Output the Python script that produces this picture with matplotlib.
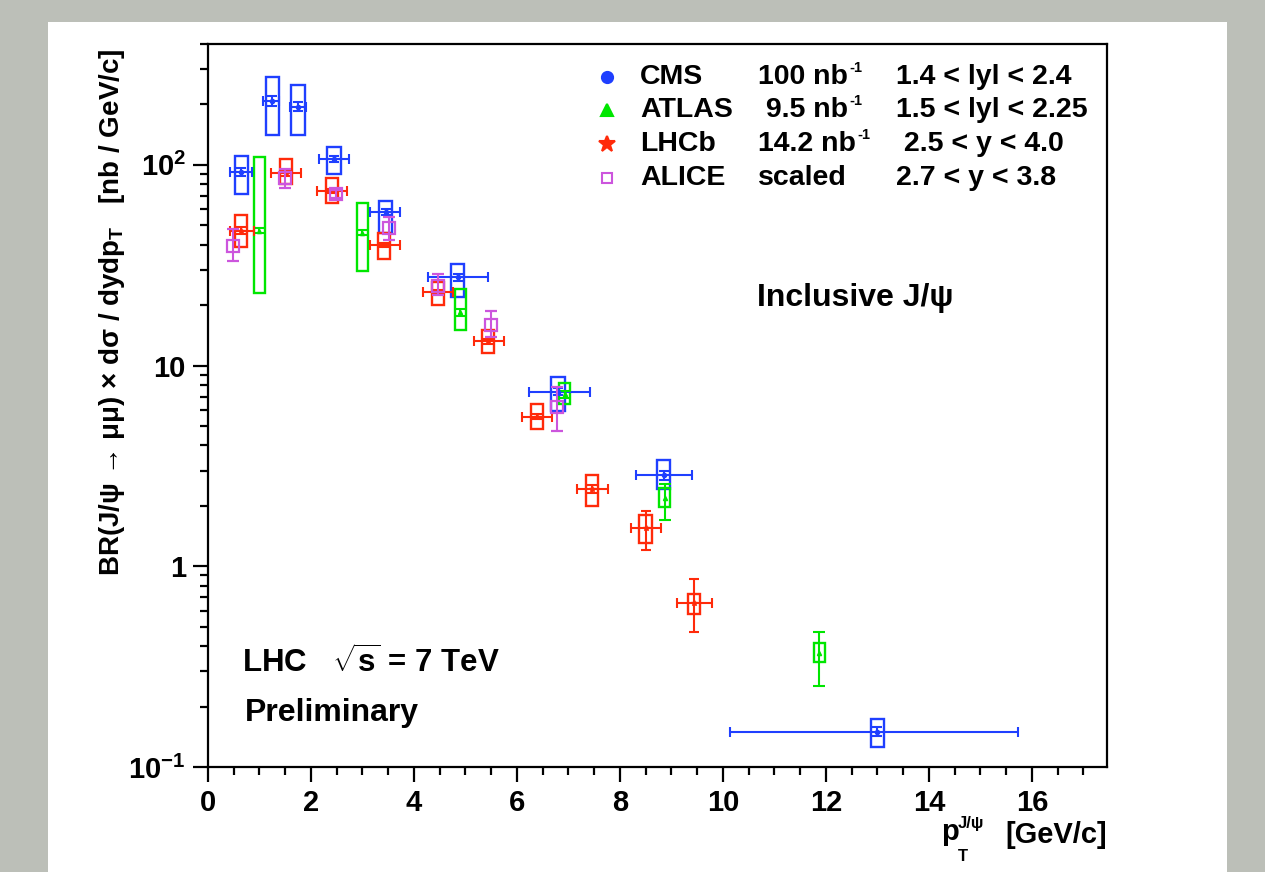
import numpy as np
import matplotlib
matplotlib.use("Agg")
import matplotlib.pyplot as plt
from matplotlib.patches import Rectangle
from matplotlib.ticker import MultipleLocator, LogLocator, FuncFormatter, NullFormatter

plt.rcParams['font.family'] = ['Liberation Sans', 'DejaVu Sans']
plt.rcParams['font.weight'] = 'bold'
plt.rcParams['mathtext.fontset'] = 'custom'
plt.rcParams['mathtext.rm'] = 'Liberation Sans:bold'
plt.rcParams['mathtext.bf'] = 'Liberation Sans:bold'
plt.rcParams['mathtext.it'] = 'Liberation Sans:bold:italic'

# CMS, 1.4 < |y| < 2.4
cms_pt = [0.65, 1.25, 1.75, 2.45, 3.45, 4.85, 6.8, 8.85, 13.0]
cms_pt_lo = [0.43, 1.07, 1.59, 2.15, 3.15, 4.27, 6.23, 8.31, 10.14]
cms_pt_hi = [0.85, 1.38, 1.9, 2.74, 3.73, 5.44, 7.42, 9.40, 15.73]
cms_xs = [92, 209, 195, 107, 58, 27.5, 7.4, 2.85, 0.15]
cms_stat = [4, 12, 10, 4, 2, 1, 0.3, 0.15, 0.008]
cms_syst_lo = [71.6, 141, 141, 90, 46, 21.9, 5.96, 2.43, 0.126]
cms_syst_hi = [111, 275, 251, 123, 66, 32, 8.8, 3.39, 0.174]

# ATLAS, 1.5 < |y| < 2.25
atlas_pt = [1.0, 3.0, 4.9, 6.93, 8.87, 11.87]
atlas_xs = [47, 46, 18.4, 7.2, 2.2, 0.37]
atlas_stat_lo = [1.5, 1.5, 0.8, 0.3, 0.5, 0.116]
atlas_stat_hi = [1.5, 1.5, 0.8, 0.3, 0.37, 0.098]
atlas_syst_lo = [23, 29.5, 15.1, 6.4, 1.97, 0.335]
atlas_syst_hi = [110, 64.6, 24, 8.2, 2.45, 0.417]

# LHCb, 2.5 < y < 4.0
lhcb_pt = [0.64, 1.51, 2.41, 3.42, 4.47, 5.44, 6.39, 7.46, 8.5, 9.44]
lhcb_pt_lo = [0.43, 1.22, 2.12, 3.15, 4.17, 5.17, 6.1, 7.17, 8.21, 9.1]
lhcb_pt_hi = [0.9, 1.81, 2.7, 3.73, 4.76, 5.75, 6.68, 7.77, 8.8, 9.79]
lhcb_xs = [47, 91, 74, 40, 23.2, 13.2, 5.56, 2.43, 1.55, 0.653]
lhcb_stat_lo = [2, 3, 2, 1, 0.5, 0.4, 0.15, 0.1, 0.35, 0.18]
lhcb_stat_hi = [2, 3, 2, 1, 0.5, 0.4, 0.15, 0.1, 0.33, 0.21]
lhcb_syst_lo = [39, 80, 64.6, 34, 20, 11.5, 4.84, 2.0, 1.3, 0.58]
lhcb_syst_hi = [56, 107, 86, 46, 26, 15.1, 6.45, 2.85, 1.8, 0.73]

# ALICE (scaled), 2.7 < y < 3.8
alice_pt = [0.49, 1.5, 2.49, 3.51, 4.47, 5.5, 6.78]
alice_xs = [39.4, 86, 71.6, 48.4, 25, 16, 6.2]
alice_err_lo = [6.4, 9, 3, 6.4, 2.5, 2.2, 1.5]
alice_err_hi = [8.6, 9, 3, 6.6, 3.5, 2.7, 1.6]

c_cms = '#1f3fff'
c_atlas = '#00e600'
c_lhcb = '#ff2a0a'
c_alice = '#cc55dd'

W, H = 1265, 872
fig = plt.figure(figsize=(W / 100, H / 100), dpi=100)
fig.patch.set_facecolor('#bcbfb8')
fig.patches.append(Rectangle((48 / W, 0), (1227 - 48) / W, (872 - 22) / H,
                             transform=fig.transFigure, facecolor='white',
                             edgecolor='none', zorder=-10))


def fx(x):
    return x / W


def fy(y):
    return 1 - y / H


ax = fig.add_axes([fx(208), fy(767), fx(1107) - fx(208), fy(44) - fy(767)])
ax.set_facecolor('white')
ax.set_yscale('log')
ax.set_xlim(0, 17.46)
ax.set_ylim(0.1, 400)


def syst_boxes(pt, lo, hi, width, color):
    for x, a, b in zip(pt, lo, hi):
        ax.add_patch(Rectangle((x - width / 2, a), width, b - a, fill=False,
                               edgecolor=color, lw=1.7, zorder=3))


syst_boxes(cms_pt, cms_syst_lo, cms_syst_hi, 0.26, c_cms)
syst_boxes(atlas_pt, atlas_syst_lo, atlas_syst_hi, 0.22, c_atlas)
syst_boxes(lhcb_pt, lhcb_syst_lo, lhcb_syst_hi, 0.24, c_lhcb)

cms_xerr = [np.array(cms_pt) - np.array(cms_pt_lo), np.array(cms_pt_hi) - np.array(cms_pt)]
ax.errorbar(cms_pt, cms_xs, xerr=cms_xerr, yerr=cms_stat, fmt='o', ms=3,
            color=c_cms, ecolor=c_cms, elinewidth=1.5, capsize=3.5, capthick=1.5, zorder=4)

ax.errorbar(atlas_pt, atlas_xs, yerr=[atlas_stat_lo, atlas_stat_hi], fmt='^', ms=3,
            color=c_atlas, ecolor=c_atlas, elinewidth=1.5, capsize=4, capthick=1.5, zorder=4)

lhcb_xerr = [np.array(lhcb_pt) - np.array(lhcb_pt_lo), np.array(lhcb_pt_hi) - np.array(lhcb_pt)]
ax.errorbar(lhcb_pt, lhcb_xs, xerr=lhcb_xerr, yerr=[lhcb_stat_lo, lhcb_stat_hi], fmt='*', ms=4,
            color=c_lhcb, ecolor=c_lhcb, elinewidth=1.5, capsize=3.5, capthick=1.5, zorder=4)

ax.errorbar(alice_pt, alice_xs, yerr=[alice_err_lo, alice_err_hi], fmt='s', ms=9,
            mfc='none', mec=c_alice, mew=1.6, color=c_alice, ecolor=c_alice,
            elinewidth=1.5, capsize=4, capthick=1.5, zorder=5)

# axes style
for s in ax.spines.values():
    s.set_linewidth(1.6)
ax.xaxis.set_major_locator(MultipleLocator(2))
ax.xaxis.set_minor_locator(MultipleLocator(0.5))
ax.yaxis.set_major_locator(LogLocator(base=10, numticks=10))
ax.yaxis.set_minor_locator(LogLocator(base=10, subs=np.arange(2, 10), numticks=20))
ax.yaxis.set_minor_formatter(NullFormatter())

ylabels = {0.1: r'$\mathbf{10^{-1}}$', 1: '1', 10: '10', 100: r'$\mathbf{10^{2}}$'}


def yfmt(v, pos):
    for k, s in ylabels.items():
        if abs(v - k) < 1e-6 * k:
            return s
    return ''


ax.yaxis.set_major_formatter(FuncFormatter(yfmt))
ax.xaxis.set_major_formatter(FuncFormatter(lambda v, p: '%d' % v if v <= 16 else ''))
ax.tick_params(which='major', direction='out', length=11, width=1.6, labelsize=21, pad=5)
ax.tick_params(which='minor', direction='out', length=6, width=1.6)
ax.tick_params(top=False, right=False, which='both')
for lab in ax.get_xticklabels() + ax.get_yticklabels():
    lab.set_fontweight('bold')

fig.text(fx(112), fy(312),
         'BR(J/ψ → μμ) × dσ / dydp$_\\mathbf{T}$   [nb / GeV/c]',
         rotation=90, ha='center', va='center', fontsize=20, fontweight='bold')

# x axis title: p_T^{J/psi} [GeV/c]
fig.text(fx(941), fy(832), 'p', ha='left', va='center', fontsize=21, fontweight='bold')
fig.text(fx(958), fy(856), 'T', ha='left', va='center', fontsize=12, fontweight='bold')
fig.text(fx(958), fy(823), 'J/ψ', ha='left', va='center', fontsize=12, fontweight='bold')
fig.text(fx(1107), fy(835), '[GeV/c]', ha='right', va='center', fontsize=21, fontweight='bold')

fig.text(fx(757), fy(298), 'Inclusive J/ψ', ha='left', va='center',
         fontsize=23, fontweight='bold')
fig.text(fx(242), fy(663), r'LHC   $\sqrt{\mathbf{s}}$ = 7 TeV', ha='left', va='center',
         fontsize=22.5, fontweight='bold')
fig.text(fx(245), fy(713), 'Preliminary', ha='left', va='center',
         fontsize=23, fontweight='bold')

# legend block
leg_rows = [
    ('o', c_cms, True, 8, 'CMS', '100 nb', '1.4 < lyl < 2.4', 77),
    ('^', c_atlas, True, 9, 'ATLAS', ' 9.5 nb', '1.5 < lyl < 2.25', 110),
    ('*', c_lhcb, True, 12, 'LHCb', '14.2 nb', ' 2.5 < y < 4.0', 144),
    ('s', c_alice, False, 7.5, 'ALICE', 'scaled', '2.7 < y < 3.8', 178),
]
for mk, col, filled, msz, name, lumi, rap, ypix in leg_rows:
    fig.lines.append(plt.Line2D([fx(607)], [fy(ypix)], transform=fig.transFigure,
                                marker=mk, ms=msz,
                                mfc=col if filled else 'none', mec=col, mew=1.5,
                                ls='none'))
    fig.text(fx(640), fy(ypix), name, ha='left', va='center', fontsize=20.5, fontweight='bold')
    t = fig.text(fx(758), fy(ypix), lumi, ha='left', va='center', fontsize=20.5, fontweight='bold')
    if lumi != 'scaled':
        fig.canvas.draw()
        bb = t.get_window_extent()
        fig.text(bb.x1 / W + 0.001, fy(ypix - 9), '-1', ha='left', va='center',
                 fontsize=10.5, fontweight='bold')
    fig.text(fx(896), fy(ypix), rap, ha='left', va='center', fontsize=20.5, fontweight='bold')

fig.savefig('out.png', dpi=100, facecolor=fig.get_facecolor())
